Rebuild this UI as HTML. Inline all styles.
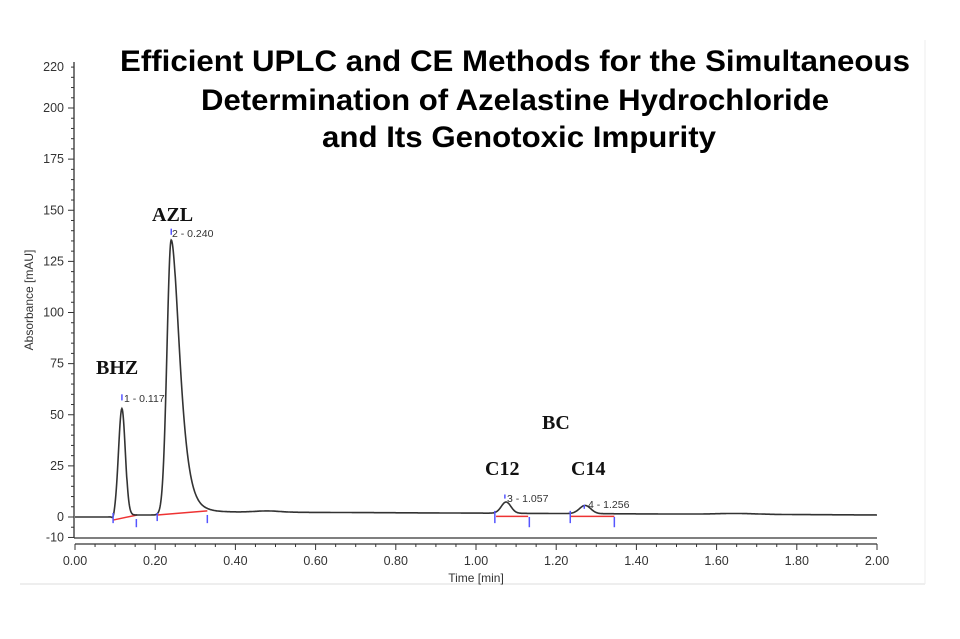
<!DOCTYPE html><html><head><meta charset="utf-8"><style>
body{margin:0;background:#fff;width:960px;height:634px;overflow:hidden}
</style></head><body>
<svg id="s" width="960" height="634" xmlns="http://www.w3.org/2000/svg" font-family="Liberation Sans, sans-serif">
<rect width="960" height="634" fill="#fff"/>
<line x1="20" y1="584" x2="925" y2="584" stroke="#ddd" stroke-width="1"/>
<line x1="925" y1="40" x2="925" y2="584" stroke="#eee" stroke-width="1"/>
<g id="ax" stroke="#333" stroke-width="1.3" fill="none">
<line x1="74" y1="62" x2="74" y2="538"/>
<line x1="74" y1="538" x2="877" y2="538"/>
<line x1="75" y1="544" x2="877" y2="544"/>
</g>
<g id="ticks" stroke="#333" stroke-width="1"></g>
<g id="lbl" font-size="12.5" fill="#333"></g>
<text x="33" y="300" font-size="12" fill="#333" transform="rotate(-90 33 300)" text-anchor="middle">Absorbance [mAU]</text>
<text x="476" y="582" font-size="12" fill="#333" text-anchor="middle">Time [min]</text>
<g id="red" stroke="#e33" stroke-width="1.5"></g>
<path id="tr" fill="none" stroke="#333" stroke-width="1.6"/>
<g id="blue" stroke="#55f" stroke-width="1.5"></g>
<g font-size="10.5" fill="#333">
<text x="124" y="402">1 - 0.117</text>
<text x="172" y="237">2 - 0.240</text>
<text x="507" y="502">3 - 1.057</text>
<text x="588" y="508">4 - 1.256</text>
</g>
<g font-family="Liberation Serif, serif" font-weight="bold" font-size="20" fill="#111">
<text x="96" y="374">BHZ</text>
<text x="152" y="221">AZL</text>
<text x="542" y="429">BC</text>
<text x="485" y="475">C12</text>
<text x="571" y="475">C14</text>
</g>
<g font-weight="bold" font-size="30" fill="#000" text-anchor="middle">
<text x="515" y="71" textLength="790" lengthAdjust="spacingAndGlyphs">Efficient UPLC and CE Methods for the Simultaneous</text>
<text x="515" y="110" textLength="628" lengthAdjust="spacingAndGlyphs">Determination of Azelastine Hydrochloride</text>
<text x="519" y="147" textLength="394" lengthAdjust="spacingAndGlyphs">and Its Genotoxic Impurity</text>
</g>
</svg>
<script>
const X=t=>75+t*401, Y=v=>517-v*2.045, NS="http://www.w3.org/2000/svg";
function el(g,tag,a,txt){const e=document.createElementNS(NS,tag);for(const k in a)e.setAttribute(k,a[k]);if(txt)e.textContent=txt;document.getElementById(g).appendChild(e);}
for(let v=-10;v<=220;v+=5){const y=Y(v);const L=(v%25==0||v==-10)?6:3;el("ticks","line",{x1:74-L,y1:y,x2:74,y2:y});}
[-10,0,25,50,75,100,125,150,175,200,220].forEach(v=>el("lbl","text",{x:64,y:Y(v)+4,"text-anchor":"end"},String(v)));
for(let i=0;i<=40;i++){const x=X(i*0.05);const L=i%4==0?6:3;el("ticks","line",{x1:x,y1:544,x2:x,y2:544+L});}
for(let i=0;i<=10;i++)el("lbl","text",{x:X(i*0.2),y:565,"text-anchor":"middle"},(i*0.2).toFixed(2));
const g=(t,m,s,a)=>a*Math.exp(-0.5*((t-m)/s)**2);
function f(t){let v=0;
 if(t>0.33)v+=2.5-1.5*(t-0.33)/1.67; else if(t>0.2)v+=1+1.5*(t-0.2)/0.13; else if(t>0.13)v+=1;
 v+=g(t,0.095,0.003,-1.5);
 v+=g(t,0.117,0.0085,53);
 let s=t<0.24?0.0105:0.017+ (t-0.24)*0.15; v+=g(t,0.240,s,134);
 v+=g(t,1.075,0.012,5.5)+g(t,1.272,0.014,4);
 v+=g(t,0.48,0.03,0.6)+g(t,1.65,0.05,0.4);
 return v;}
let d="";for(let t=0;t<=2.0001;t+=0.001)d+=(d?"L":"M")+X(t).toFixed(1)+","+Y(f(t)).toFixed(1);
document.getElementById("tr").setAttribute("d",d);
[[0.095,-1.5,0.155,1],[0.205,1,0.33,3],[1.05,0.3,1.13,0.3],[1.235,0.3,1.345,0.3]].forEach(a=>el("red","line",{x1:X(a[0]),y1:Y(a[1]),x2:X(a[2]),y2:Y(a[3])}));
[[0.095,-3,2],[0.153,-5,-1],[0.205,-2,2],[0.33,-3,1],[1.047,-3,3],[1.133,-5,0],[1.235,-3,3],[1.345,-5,0],[0.117,57,60],[0.240,138,141],[1.072,9,11],[1.27,4,6]].forEach(a=>el("blue","line",{x1:X(a[0]),y1:Y(a[1]),x2:X(a[0]),y2:Y(a[2])}));
</script>
</body></html>
